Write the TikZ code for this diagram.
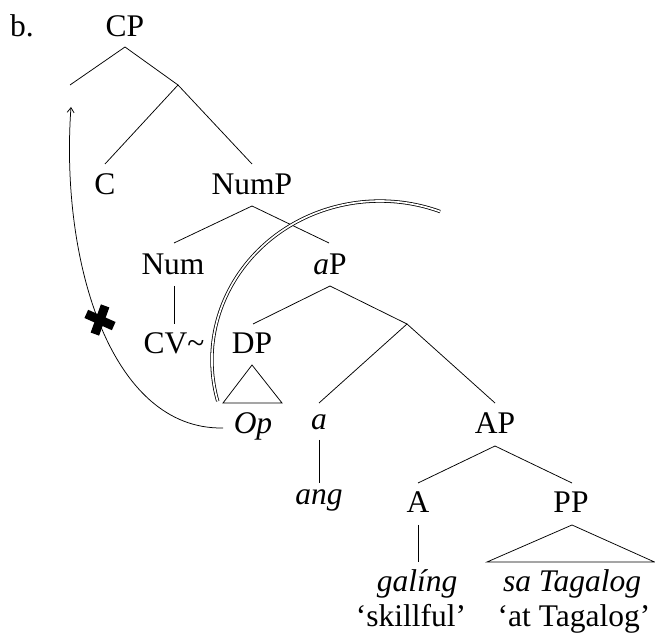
\documentclass[tikz,border=0pt]{standalone}
\usepackage{fontspec}
\setmainfont{Liberation Serif}
\usetikzlibrary{arrows.meta}
\begin{document}
\begin{tikzpicture}[x=1pt,y=1pt,
  lbl/.style={anchor=base,inner sep=0pt,font=\fontsize{31.5}{36}\selectfont},
  br/.style={line width=0.75pt},
  mv/.style={line width=0.75pt,-{Straight Barb[length=5pt,width=7pt]}},
  dbl/.style={double,double distance=1.7pt,line width=0.8pt}]
\useasboundingbox (0,0) rectangle (655,644);
% labels
\node[lbl,anchor=base west] (ex) at (10,607) {b.};
\node[lbl] (CP) at (125,607) {CP};
\node[lbl] (C) at (105,449) {C};
\node[lbl] (NumP) at (252,449) {NumP};
\node[lbl] (Num) at (173,369) {Num};
\node[lbl] (aP) at (330,369) {\textit{a}P};
\node[lbl] (CV) at (174,290) {CV\textasciitilde};
\node[lbl] (DP) at (252,290) {DP};
\node[lbl] (Op) at (253,210) {\textit{Op}};
\node[lbl] (a) at (319,214) {\textit{a}};
\node[lbl] (AP) at (495,210) {AP};
\node[lbl] (ang) at (319,139) {\textit{ang}};
\node[lbl] (A) at (418,131) {A};
\node[lbl] (PP) at (571,131) {PP};
\node[lbl] (galing) at (417,52) {\textit{galíng}};
\node[lbl] (saT) at (572,52) {\textit{sa Tagalog}};
\node[lbl] (gl1) at (411,17) {‘skillful’};
\node[lbl] (gl2) at (574,17) {‘at Tagalog’};
% branch coordinates
\coordinate (CPb) at (125,597);
\coordinate (spec) at (70,559);
\coordinate (Cbar) at (178,559);
\coordinate (Ct) at (105,480);
\coordinate (NumPt) at (252,480);
\coordinate (NumPb) at (252,438);
\coordinate (Numt) at (174,401);
\coordinate (aPt) at (329,401);
\coordinate (Numb) at (174,358);
\coordinate (CVt) at (174,320);
\coordinate (aPb) at (330,358);
\coordinate (DPt) at (253,320);
\coordinate (abar) at (407,320);
\coordinate (at) at (319,241);
\coordinate (APt) at (495,241);
\coordinate (DPtri) at (252,279);
\coordinate (DPl) at (223,241);
\coordinate (DPr) at (282,241);
\coordinate (ab) at (319,204);
\coordinate (angt) at (319,161);
\coordinate (APb) at (495,198);
\coordinate (At) at (418,161);
\coordinate (PPt) at (572,161);
\coordinate (Ab) at (418,119);
\coordinate (galt) at (418,82);
\coordinate (PPtri) at (572,119);
\coordinate (PPl) at (487,82);
\coordinate (PPr) at (654.5,82);
\coordinate (mvs) at (223,216);
\coordinate (mvt) at (71,537);
\coordinate (xmark) at (100,324);
\coordinate (arcs) at (217.7,242.8);
% tree
\draw[br] (spec) -- (CPb) -- (Cbar);
\draw[br] (Ct) -- (Cbar) -- (NumPt);
\draw[br] (Numt) -- (NumPb) -- (aPt);
\draw[br] (Numb) -- (CVt);
\draw[br] (DPt) -- (aPb) -- (abar);
\draw[br] (at) -- (abar) -- (APt);
\draw[br] (DPl) -- (DPtri) -- (DPr) -- cycle;
\draw[br] (ab) -- (angt);
\draw[br] (At) -- (APb) -- (PPt);
\draw[br] (Ab) -- (galt);
\draw[br] (PPl) -- (PPtri) -- (PPr) -- cycle;
% movement arrow
\draw[mv] (mvs) .. controls (110,214) and (60,384) .. (mvt);
\draw[line width=9pt] (xmark) ++(-24:15) -- ++(156:30);
\draw[line width=9pt] (xmark) ++(70:15) -- ++(250:30);
% double arc
\draw[dbl] (arcs) arc[start angle=195,end angle=69,x radius=168,y radius=159];
\end{tikzpicture}
\end{document}
